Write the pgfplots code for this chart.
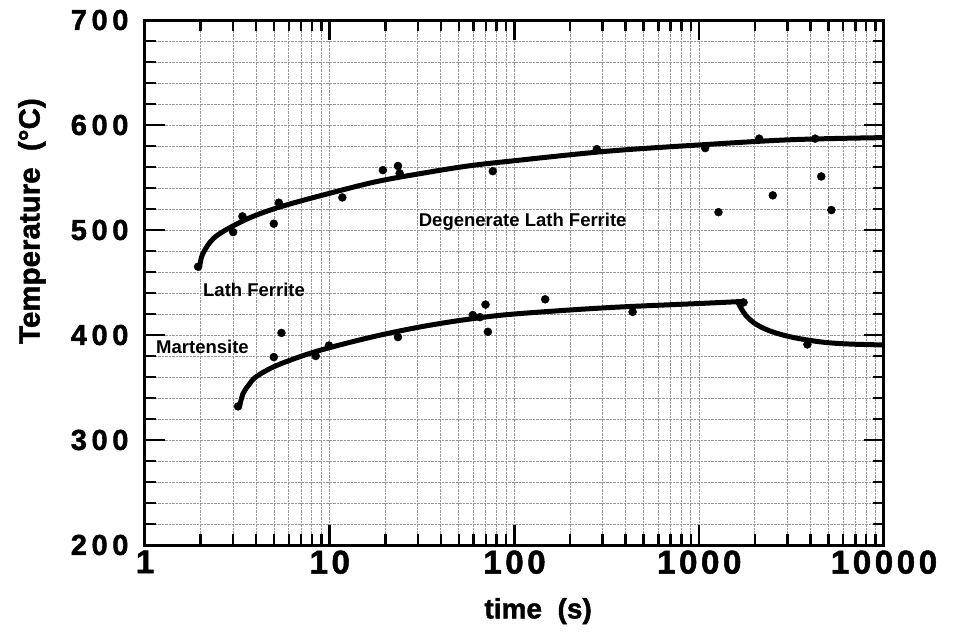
\documentclass[border=0pt]{standalone}
\usepackage{fontspec}
\setmainfont{Liberation Sans}
\newfontfamily\heavyfont[FakeBold=1.5]{Liberation Sans}
\newfontfamily\xtickfont[LetterSpace=11,FakeBold=1.5]{Liberation Sans}
\newfontfamily\ytickfont[LetterSpace=16,FakeBold=1.5]{Liberation Sans}
\usepackage{pgfplots}
\pgfplotsset{compat=1.18}

% measured points, time (s) vs temperature (C)
\pgfplotstableread{
t T
1.94 465
3.0 498
3.37 513
4.98 506
5.3 526
11.7 531
19.4 557
23.4 561
23.9 554
76.3 556
279 577
1077 578
2110 587
4240 587
1271 517
2500 533
4575 551
5190 519
69.7 429
146.6 434
1737 431
3.19 332
4.98 379
5.48 402
8.4 380
9.9 390
23.4 398
59.5 419
65 417
71.8 403
436 422
3850 391
}\points

\begin{document}
\begin{tikzpicture}
\begin{axis}[
    at={(0pt,0pt)}, anchor=south west,
    scale only axis,
    width=739pt, height=525pt,
    xmode=log,
    xmin=1, xmax=10000,
    ymin=200, ymax=700,
    xtick={1,10,100,1000,10000},
    xticklabels={1,10,100,1000,10000},
    ytick={200,300,400,500,600,700},
    yticklabels={200,300,400,500,600,700},
    minor y tick num=4,
    grid=both,
    major grid style={gray!80, densely dotted, line width=1pt},
    minor grid style={gray!80, densely dotted, line width=1pt},
    axis line style={line width=3pt},
    tick style={black, line width=2.5pt},
    major tick length=20pt,
    minor tick length=11pt,
    xticklabel style={font=\xtickfont\bfseries\fontsize{33}{33}\selectfont, yshift=-2pt},
    yticklabel style={font=\ytickfont\bfseries\fontsize{29}{29}\selectfont, xshift=-13pt},
    xlabel={time\ \ (s)},
    ylabel={Temperature\ \ (°C)},
    xlabel style={font=\heavyfont\bfseries\fontsize{28}{28}\selectfont, at={(axis description cs:0.532,-0.126)}, anchor=center},
    ylabel style={font=\heavyfont\bfseries\fontsize{29.5}{29.5}\selectfont, at={(axis description cs:-0.153,0.617)}, anchor=center},
]
% upper boundary
\addplot[line width=5pt, smooth, tension=0.55] coordinates {
    (1.98,466) (2.04,476) (2.24,488) (2.51,496) (3.16,506) (3.98,514)
    (5.62,523) (10,535) (17.8,546) (31.6,554) (56.2,561) (100,566)
    (316,575) (1000,581) (3162,586) (10000,588)
};
% lower boundary
\addplot[line width=5pt, smooth, tension=0.55] coordinates {
    (3.26,333) (3.39,344) (3.63,352) (3.98,360) (5.01,370) (7.08,380)
    (10,388) (17.8,399) (31.6,408) (56.2,415) (100,420) (316,426)
    (1000,430) (1740,432)
};
\addplot[line width=5pt, smooth, tension=0.55] coordinates {
    (1620,431) (1680,426) (1780,419) (2000,411) (2400,404) (3160,398)
    (4500,393.5) (6300,391.5) (10000,390.5)
};
\addplot[only marks, mark=*, mark size=4pt, black] table[x=t, y=T] {\points};

\node[anchor=base west, font=\bfseries\fontsize{18.5}{18.5}\selectfont, inner sep=0pt] at (axis cs:30.3,502.9) {Degenerate Lath Ferrite};
\node[anchor=base west, font=\bfseries\fontsize{18.5}{18.5}\selectfont, inner sep=0pt] at (axis cs:2.06,437) {Lath Ferrite};
\node[anchor=base west, font=\bfseries\fontsize{18.5}{18.5}\selectfont, inner sep=0pt] at (axis cs:1.147,382.6) {Martensite};
\end{axis}
\path (-145pt,-92pt) rectangle (811pt,545pt);
\end{tikzpicture}
\end{document}
